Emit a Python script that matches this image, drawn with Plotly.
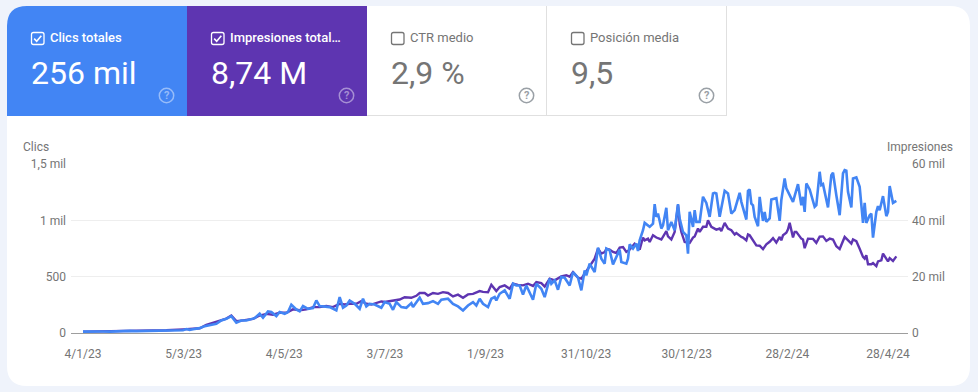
import pandas as pd
import plotly.graph_objects as go

W, H = 978, 392
L, R, T, B = 71, 908, 164, 333

START = pd.Timestamp("2023-01-04")
# (day since first date, clicks)
click_readings = [
 (0,12),(4,14),(8,12),(12,13),(16,12),(20,15),(24,17),(28,19),(32,17),(36,19),(40,16),(44,18),(48,24),(52,22),(56,27),(60,25),(62,35),(64,28),(66,34),(68,38),
 (70,43),(73,61),(77,76),(80,82),(83,111),(86,126),(89,150),(92,91),(95,111),(98,111),(103,132),(106,171),(108,135),(111,192),(113,186),(116,150),(118,186),(121,171),(123,186),(125,251),(128,209),(130,192),(132,239),(135,215),(138,221),(140,289),(142,239),(146,230),(148,230),(152,200),
 (154,319),(156,224),(158,244),(160,289),(163,259),(166,215),(168,304),(170,236),(172,259),(175,253),(179,224),(181,274),(184,259),(186,206),(188,274),(191,230),(194,224),(197,265),(198,230),(202,313),(204,259),(207,265),(210,283),(213,259),(215,295),(219,304),(222,259),(225,236),(228,200),(231,244),(234,274),(236,244),
 (238,304),(240,259),(243,230),(245,304),(247,319),(248,289),(250,348),(253,378),(256,304),(258,437),(260,422),(262,422),(264,342),(266,422),(268,363),(270,295),(272,437),(275,393),(277,319),(280,482),(281,437),(283,467),(285,384),(287,497),(289,491),(292,422),(294,541),(297,491),(299,378),(301,556),(302,511),(304,615),(307,541),(308,645),(309,758),
 (311,660),(313,615),(314,749),(316,734),(318,609),(320,675),(322,740),(323,630),(326,615),(327,660),(328,787),(330,749),(332,793),(333,728),(334,823),(336,912),(337,977),(340,942),(342,971),(343,1143),(344,1031),(345,1060),(347,927),(348,956),(350,1111),(351,912),(353,986),(355,912),(357,1143),(358,1016),(360,897),(362,867),(363,704),(364,1075),(366,942),(367,1090),(368,986),(370,986),(372,1209),(374,1155),(376,1031),(378,1238),(379,1244),(380,1238),(382,1031),(385,1262),(387,1238),(389,1060),(391,1090),(394,1244),(395,1164),(398,1007),(399,1262),
 (400,1274),(401,1149),(402,1134),(403,1031),(405,948),(406,1209),(407,1090),(408,995),(409,1075),(410,986),(412,1016),(413,1185),(416,1197),(418,995),(419,1179),(421,1372),(422,1283),(424,1223),(426,1164),(429,1321),(431,1134),(432,1209),(433,1075),(434,1327),(436,1274),(439,1120),(440,1134),(442,1431),(443,1312),(444,1321),(447,1114),(449,1401),(450,1422),(452,1223),(454,1045),(456,1416),(457,1446),(458,1440),(459,1253),(461,1114),(462,1372),(464,1381),(466,1298),(468,977),(469,1155),(470,977),(472,1045),(473,1060),(474,847),(476,1075),(477,1126),(478,1090),(480,1215),(482,1037),(483,1075),(484,1304),(485,1209),(486,1155),(488,1173),
]
# (day since first date, impressions in thousands)
impression_readings = [
 (0,0.5),(10,0.6),(20,0.7),(30,0.8),(40,0.8),(50,1.0),(60,1.3),(65,1.5),
 (70,1.7),(74,2.9),(78,3.6),(82,4.5),(86,5.1),(89,6.2),(92,4.2),(96,4.5),(102,5.0),(106,6.2),(110,6.8),(114,6.5),(118,7.2),(122,7.2),(126,8.4),(130,8.1),(134,8.4),(138,9.2),(142,9.2),(146,9.6),(150,9.2),
 (154,10.4),(157,10.1),(160,10.4),(164,10.4),(167,11.3),(170,10.4),(173,10.1),(176,10.7),(179,11.2),(181,11.0),(184,11.3),(187,11.6),(190,11.9),(193,12.7),(197,12.5),(200,13.2),(202,14.2),(205,14.2),(207,13.3),(210,14.2),(213,13.9),(216,14.5),(219,14.2),(222,13.0),(225,13.6),(228,12.5),(231,13.7),(234,13.9),
 (238,14.9),(240,14.6),(243,14.5),(245,17.1),(248,14.9),(250,16.3),(253,16.9),(256,15.7),(258,17.5),(261,17.1),(264,16.9),(267,17.5),(270,16.7),(272,18.1),(275,17.7),(277,16.5),(280,19.3),(283,18.7),(287,20.1),(290,20.5),(292,20.0),(294,21.6),(297,19.6),(299,19.3),(301,21.1),(304,24.0),(307,26.4),(309,30.0),(311,28.2),(313,28.7),
 (314,29.9),(316,29.6),(318,28.8),(320,28.4),(322,30.3),(324,30.5),(326,28.8),(328,29.6),(331,31.7),(333,30.8),(334,29.6),(336,33.9),(337,32.9),(339,33.5),(340,32.3),(342,34.7),(344,33.9),(347,33.2),(350,36.2),(351,34.3),(353,33.2),(355,35.9),(356,41.2),(357,45.4),(358,38.8),(359,35.9),(361,32.3),(364,32.0),(366,33.9),(367,34.3),(369,37.1),(370,35.9),(372,37.7),(374,37.7),(375,40.0),(377,37.7),(380,36.7),(382,37.1),(383,36.2),(385,39.1),(387,37.1),(389,36.5),(391,35.0),(392,35.5),(395,34.1),(396,33.9),(398,32.9),(399,35.0),
 (400,34.7),(402,32.9),(404,31.1),(406,31.0),(408,29.8),(410,31.5),(412,32.4),(414,33.7),(416,32.1),(418,34.1),(419,32.9),(420,34.7),(422,35.6),(423,36.8),(424,39.1),(426,33.9),(427,35.9),(428,35.9),(431,33.5),(432,33.2),(433,30.1),(435,33.5),(438,33.4),(440,32.0),(442,34.2),(444,34.3),(446,32.7),(448,33.5),(450,33.2),(452,30.8),(454,29.8),(457,34.1),(460,32.3),(461,31.7),(462,33.2),(464,32.6),(466,29.9),(468,27.0),(469,26.4),(470,27.6),(471,24.4),(473,24.4),(474,24.8),(476,23.7),(477,25.4),(479,25.8),(480,28.2),(482,26.0),(483,25.4),(484,26.6),(486,25.6),(488,27.2),
]
date_ticks = ["2023-01-04","2023-03-05","2023-05-04","2023-07-03","2023-09-01","2023-10-31","2023-12-30","2024-02-28","2024-04-28"]
date_labels = ["4/1/23","5/3/23","4/5/23","3/7/23","1/9/23","31/10/23","30/12/23","28/2/24","28/4/24"]
click_ticks = [0,500,1000,1500]
click_labels = ["0","500","1 mil","1,5 mil"]
impression_ticks = [0,20,40,60]
impression_labels = ["0","20 mil","40 mil","60 mil"]

tile_titles = ["Clics totales","Impresiones total…","CTR medio","Posición media"]
tile_values = ["256 mil","8,74 M","2,9 %","9,5"]

READING_SCALE = 480/483   # days were read at a slightly coarser px/day than the ticks

def to_dates(pairs):
    return [START + pd.Timedelta(days=p[0]*READING_SCALE) for p in pairs]

BLUE, PURPLE = "#4285f4", "#5e35b1"
GREY = "#757575"
fig = go.Figure()
# impressions live on the base axis so the clicks line, on the overlaying axis, is drawn above them
fig.add_trace(go.Scatter(x=to_dates(impression_readings), y=[p[1] for p in impression_readings],
                         mode="lines", line=dict(color=PURPLE, width=2.4), hoverinfo="skip"))
fig.add_trace(go.Scatter(x=to_dates(click_readings), y=[p[1] for p in click_readings], yaxis="y2",
                         mode="lines", line=dict(color=BLUE, width=2.6), hoverinfo="skip"))

px_day = 805/480
def fx(x): return (x-L)/(R-L)
def fy(y): return (B-y)/(B-T)
def P(x, y): return f"{fx(x):.5f} {fy(y):.5f}"

shapes = []
def path(d, fill=None, line=None, lw=1, layer="below"):
    shapes.append(dict(type="path", path=d, xref="paper", yref="paper", layer=layer,
                       fillcolor=fill or "rgba(0,0,0,0)",
                       line=dict(color=line or "rgba(0,0,0,0)", width=lw if line else 0)))
def rrect(x0, y0, x1, y1, tl=0, tr=0, br=0, bl=0):
    return (f"M {P(x0+tl,y0)} L {P(x1-tr,y0)} Q {P(x1,y0)} {P(x1,y0+tr)} L {P(x1,y1-br)} Q {P(x1,y1)} {P(x1-br,y1)} "
            f"L {P(x0+bl,y1)} Q {P(x0,y1)} {P(x0,y1-bl)} L {P(x0,y0+tl)} Q {P(x0,y0)} {P(x0+tl,y0)} Z")

path(rrect(7, 6, 970, 386, 20, 20, 20, 20), fill="white")
path(rrect(7, 6, 187, 116, tl=20), fill=BLUE)
path(rrect(187, 6, 367, 116), fill=PURPLE)
path(f"M {P(367,115.5)} L {P(727,115.5)}", line="#e0e0e0")
path(f"M {P(546.5,6)} L {P(546.5,116)}", line="#e0e0e0")
path(f"M {P(726.5,6)} L {P(726.5,116)}", line="#e0e0e0")

annotations = []
def label(x, y, text, size, color, anchor="left", weight=400):
    annotations.append(dict(xref="paper", yref="paper", x=fx(x), y=fy(y), text=text, showarrow=False,
                            xanchor=anchor, yanchor="middle", xshift=0, borderpad=0,
                            font=dict(family="Roboto", size=size, color=color, weight=weight)))

tile_x = [7, 187, 367, 547]
for i, tx in enumerate(tile_x):
    on = i < 2
    col = "white" if on else GREY
    cx = tx + 24
    path(rrect(cx+0.5, 32.5, cx+13, 44.5, 2, 2, 2, 2), line=col, lw=1.3)
    if on:
        path(f"M {P(cx+3.2,38.6)} L {P(cx+5.7,41.2)} L {P(cx+10.3,35.8)}", line=col, lw=1.6)
    label(tx+42, 37.5, tile_titles[i], 13, "white" if on else GREY, weight=500 if on else 400)
    label(tx+23, 72.5, tile_values[i], 32, "white" if on else GREY)
    hx, hy, r = tx+159.5, 95.5, 7.2
    hc = "rgba(255,255,255,0.45)" if on else "#9aa0a6"
    k = r*0.5523
    path(f"M {P(hx-r,hy)} C {P(hx-r,hy-k)} {P(hx-k,hy-r)} {P(hx,hy-r)} C {P(hx+k,hy-r)} {P(hx+r,hy-k)} {P(hx+r,hy)} "
         f"C {P(hx+r,hy+k)} {P(hx+k,hy+r)} {P(hx,hy+r)} C {P(hx-k,hy+r)} {P(hx-r,hy+k)} {P(hx-r,hy)} Z", line=hc, lw=1.5)
    label(hx, 95.5, "?", 11, hc, anchor="center", weight=700)

label(22, 146.5, "Clics", 12, GREY)
label(954, 146.5, "Impresiones", 12, GREY, anchor="right")

axis_font = dict(family="Roboto", size=12, color=GREY)
fig.update_layout(
    width=W, height=H, showlegend=False,
    margin=dict(l=L, r=W-R, t=T, b=H-B, pad=0),
    paper_bgcolor="#eff3fb", plot_bgcolor="rgba(0,0,0,0)",
    shapes=shapes, annotations=annotations,
    xaxis=dict(type="date",
               range=[START + pd.Timedelta(days=(L-83)/px_day), START + pd.Timedelta(days=(R-83)/px_day)],
               tickmode="array", tickvals=date_ticks, ticktext=date_labels, tickfont=axis_font,
               showgrid=False, zeroline=False, showline=True, linecolor="#9e9e9e", linewidth=1,
               ticks="", ticklabelstandoff=10),
    yaxis=dict(range=[0,60], side="right", tickmode="array", tickvals=impression_ticks,
               ticktext=impression_labels, tickfont=axis_font, gridcolor="#eeeeee", gridwidth=1,
               zeroline=False, showline=False, ticks="", ticklabelstandoff=3),
    yaxis2=dict(range=[0,1500], overlaying="y", side="left", tickmode="array", tickvals=click_ticks,
                ticktext=click_labels, tickfont=axis_font, showgrid=False, zeroline=False,
                showline=False, ticks="", ticklabelstandoff=4),
)
fig.write_html("out.html", config=dict(displayModeBar=False),
               post_script="document.body.style.margin='0';document.body.style.overflow='hidden';")
